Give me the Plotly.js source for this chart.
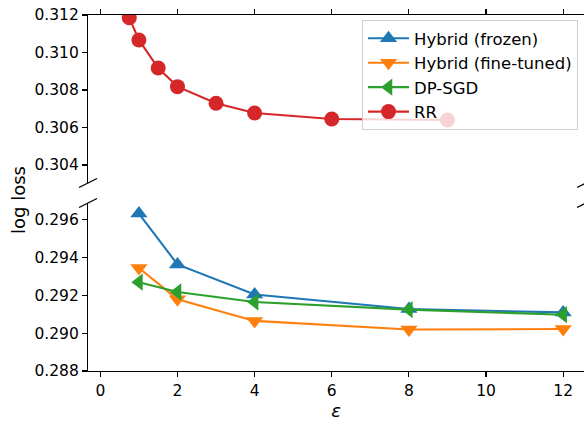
<!DOCTYPE html>
<html><head><meta charset="utf-8">
<script src="https://cdn.plot.ly/plotly-3.0.1.min.js"></script>
<style>html,body{margin:0;padding:0;background:#fff;}#chart{width:584px;height:421px;}</style>
</head><body><div id="chart"></div>
<script>
// Data
const hybridFrozenX = [1, 2, 4, 8, 12];
const hybridFrozenY = [0.29633, 0.29364, 0.29205, 0.29128, 0.29110];
const hybridFineX = [1, 2, 4, 8, 12];
const hybridFineY = [0.29345, 0.29180, 0.29065, 0.29020, 0.29022];
const dpsgdX = [1, 2, 4, 8, 12];
const dpsgdY = [0.29270, 0.29218, 0.29165, 0.29125, 0.29098];
const rrX = [0.75, 1, 1.5, 2, 3, 4, 6, 9];
const rrY = [0.31185, 0.31067, 0.30917, 0.30818, 0.30729, 0.30677, 0.30645, 0.30640];
const xTicks = [0, 2, 4, 6, 8, 10, 12];

const C = {blue:'#1f77b4', orange:'#ff7f0e', green:'#2ca02c', red:'#d62728'};
const F = 'DejaVu Sans, sans-serif';

const traces = [
  {x: hybridFrozenX, y: hybridFrozenY, name: 'Hybrid (frozen)', mode: 'lines+markers', xaxis:'x', yaxis:'y',
   line:{color:C.blue, width:2.1}, marker:{symbol:'triangle-up', size:15, color:C.blue}},
  {x: hybridFineX, y: hybridFineY, name: 'Hybrid (fine-tuned)', mode: 'lines+markers', xaxis:'x', yaxis:'y',
   line:{color:C.orange, width:2.1}, marker:{symbol:'triangle-down', size:15, color:C.orange}},
  {x: dpsgdX, y: dpsgdY, name: 'DP-SGD', mode: 'lines+markers', xaxis:'x', yaxis:'y',
   line:{color:C.green, width:2.1}, marker:{symbol:'triangle-left', size:15, color:C.green}},
  {x: rrX, y: rrY, name: 'RR', mode: 'lines+markers', xaxis:'x2', yaxis:'y2',
   line:{color:C.red, width:2.1}, marker:{symbol:'circle', size:15, color:C.red}}
];

const W = 496, H = 356; // plot area size
function px(x){ return (x-88)/W; }
function py(y){ return (371-y)/H; }
function mark(cx, cy){
  return {type:'line', xref:'paper', yref:'paper', x0:px(cx-9), y0:py(cy+4.5), x1:px(cx+9), y1:py(cy-4.5),
          line:{color:'#000', width:1.3}};
}

const axFont = {family:F, size:15.5, color:'#000'};
const layout = {
  width:584, height:421,
  margin:{l:88, r:0, t:15, b:50},
  paper_bgcolor:'#fff', plot_bgcolor:'#fff',
  font:{family:F, color:'#000'},
  showlegend:true,
  legend:{x:px(362), y:py(20), xanchor:'left', yanchor:'top', bgcolor:'rgba(255,255,255,0.8)', itemwidth:41,
          bordercolor:'#d0d0d0', borderwidth:1, font:{family:F, size:16.5, color:'#000'}},
  xaxis:{domain:[0,1], anchor:'y', range:[-0.32, 12.54], tickvals:xTicks, ticktext:xTicks.map(String),
         ticks:'outside', ticklen:5, tickwidth:1.1, tickcolor:'#000', showline:true, linecolor:'#000', linewidth:1.1,
         showgrid:false, zeroline:false, tickfont:axFont,
         title:{text:'<i>ε</i>', font:{family:F, size:18, color:'#000'}, standoff:6}},
  yaxis:{domain:[0, py(203)], anchor:'x', range:[0.288, 0.29689], dtick:0.002, tick0:0.288, tickformat:'.3f',
         ticks:'outside', ticklen:5, tickwidth:1.1, tickcolor:'#000', showline:true, linecolor:'#000', linewidth:1.1,
         showgrid:false, zeroline:false, tickfont:axFont},
  xaxis2:{domain:[0,1], anchor:'y2', side:'top', matches:'x', range:[-0.32, 12.54], tickvals:xTicks,
          showticklabels:false, ticks:'outside', ticklen:5, tickwidth:1.1, tickcolor:'#000',
          showline:true, linecolor:'#000', linewidth:1.1, showgrid:false, zeroline:false},
  yaxis2:{domain:[py(183), 1], anchor:'x2', range:[0.30304, 0.312], dtick:0.002, tick0:0.304, tickformat:'.3f',
          ticks:'outside', ticklen:5, tickwidth:1.1, tickcolor:'#000', showline:true, linecolor:'#000', linewidth:1.1,
          showgrid:false, zeroline:false, tickfont:axFont},
  shapes:[mark(88,183), mark(88,203), mark(586,183), mark(586,203)],
  annotations:[{text:'log loss', xref:'paper', yref:'paper', x:px(18), y:py(200), textangle:-90,
                showarrow:false, xanchor:'center', yanchor:'middle', font:{family:F, size:18, color:'#000'}}]
};

Plotly.newPlot('chart', traces, layout, {displayModeBar:false, staticPlot:true});
</script>
</body></html>
